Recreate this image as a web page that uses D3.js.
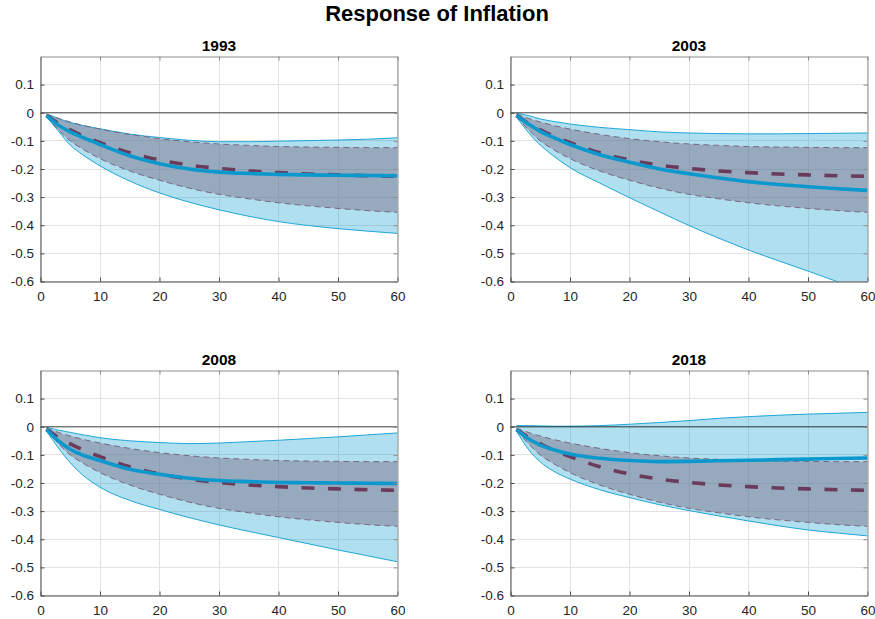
<!DOCTYPE html>
<html>
<head>
<meta charset="utf-8">
<script src="https://cdn.jsdelivr.net/npm/d3@7"></script>
<style>
  body { margin: 0; background: #fff; }
  svg { display: block; font-family: "Liberation Sans", Arial, Helvetica, sans-serif; }
</style>
</head>
<body>
<svg id="chart" width="875" height="619"></svg>
<script>
// Horizons (months after the shock) at which the responses are tabulated
const horizons = [1, 3, 5, 7, 10, 15, 20, 25, 30, 35, 40, 45, 50, 55, 60];

// Full-sample benchmark response: median and band (dashed, same in every panel)
const baseMedian = [-0.010, -0.038, -0.061, -0.081, -0.106, -0.142, -0.168, -0.186, -0.198, -0.207, -0.213, -0.218, -0.221, -0.224, -0.226];
const baseUpper  = [-0.005, -0.020, -0.033, -0.044, -0.058, -0.077, -0.092, -0.103, -0.111, -0.116, -0.120, -0.122, -0.123, -0.124, -0.124];
const baseLower  = [-0.012, -0.060, -0.100, -0.128, -0.163, -0.207, -0.240, -0.268, -0.290, -0.306, -0.320, -0.331, -0.340, -0.348, -0.354];

// Year-specific responses: median and band
const years = ["1993", "2003", "2008", "2018"];

const median1993 = [-0.010, -0.044, -0.068, -0.087, -0.113, -0.153, -0.181, -0.200, -0.211, -0.216, -0.219, -0.221, -0.222, -0.223, -0.224];
const upper1993  = [-0.004, -0.020, -0.035, -0.045, -0.057, -0.076, -0.088, -0.098, -0.103, -0.103, -0.101, -0.099, -0.097, -0.094, -0.089];
const lower1993  = [-0.015, -0.065, -0.115, -0.148, -0.189, -0.243, -0.285, -0.318, -0.345, -0.368, -0.387, -0.401, -0.412, -0.421, -0.429];

const median2003 = [-0.010, -0.040, -0.066, -0.086, -0.113, -0.149, -0.176, -0.200, -0.217, -0.232, -0.245, -0.255, -0.263, -0.270, -0.276];
const upper2003  = [-0.002, -0.010, -0.022, -0.030, -0.040, -0.052, -0.060, -0.068, -0.072, -0.074, -0.075, -0.075, -0.074, -0.073, -0.072];
const lower2003  = [-0.015, -0.070, -0.115, -0.150, -0.195, -0.250, -0.302, -0.352, -0.401, -0.446, -0.488, -0.526, -0.563, -0.601, -0.640];

const median2008 = [-0.010, -0.050, -0.080, -0.100, -0.120, -0.151, -0.169, -0.183, -0.191, -0.195, -0.198, -0.199, -0.200, -0.201, -0.202];
const upper2008  = [-0.002, -0.012, -0.020, -0.028, -0.039, -0.050, -0.056, -0.060, -0.058, -0.053, -0.048, -0.042, -0.036, -0.029, -0.022];
const lower2008  = [-0.015, -0.075, -0.128, -0.170, -0.215, -0.262, -0.294, -0.323, -0.349, -0.372, -0.394, -0.416, -0.438, -0.459, -0.480];

const median2018 = [-0.010, -0.043, -0.065, -0.080, -0.097, -0.112, -0.120, -0.124, -0.123, -0.121, -0.119, -0.117, -0.115, -0.113, -0.111];
const upper2018  = [0.004, 0.004, 0.003, 0.002, 0.002, 0.004, 0.009, 0.015, 0.022, 0.030, 0.036, 0.041, 0.045, 0.048, 0.051];
const lower2018  = [-0.015, -0.080, -0.125, -0.155, -0.186, -0.224, -0.252, -0.277, -0.298, -0.317, -0.335, -0.352, -0.367, -0.378, -0.388];

// Axis ticks
const xTicks = [0, 10, 20, 30, 40, 50, 60];
const xTickLabels = ["0", "10", "20", "30", "40", "50", "60"];
const yTicks = [-0.6, -0.5, -0.4, -0.3, -0.2, -0.1, 0, 0.1];
const yTickLabels = ["-0.6", "-0.5", "-0.4", "-0.3", "-0.2", "-0.1", "0", "0.1"];

const chartTitle = "Response of Inflation";

const panelData = [
  { title: years[0], median: median1993, upper: upper1993, lower: lower1993 },
  { title: years[1], median: median2003, upper: upper2003, lower: lower2003 },
  { title: years[2], median: median2008, upper: upper2008, lower: lower2008 },
  { title: years[3], median: median2018, upper: upper2018, lower: lower2018 }
];

// Subplot geometry (2 x 2 grid)
const colX = [40, 510];
const rowY = [56, 370];
const panelW = 357;
const panelH = 225;

const svg = d3.select("#chart");

svg.append("text")
  .attr("x", 437)
  .attr("y", 21)
  .attr("text-anchor", "middle")
  .attr("font-size", 22)
  .attr("font-weight", "bold")
  .attr("fill", "#000")
  .text(chartTitle);

const xScale = d3.scaleLinear().domain([0, 60]).range([0, panelW]);
const yScale = d3.scaleLinear().domain([-0.6, 0.2]).range([panelH, 0]);

const rows = horizons.map((h, i) => i);

function lineFor(values) {
  return d3.line()
    .x(i => xScale(horizons[i]))
    .y(i => yScale(values[i]))
    .curve(d3.curveMonotoneX)(rows);
}
function areaFor(lo, hi) {
  return d3.area()
    .x(i => xScale(horizons[i]))
    .y0(i => yScale(lo[i]))
    .y1(i => yScale(hi[i]))
    .curve(d3.curveMonotoneX)(rows);
}

panelData.forEach((p, k) => {
  const g = svg.append("g")
    .attr("transform", `translate(${colX[k % 2] + 0.5},${rowY[Math.floor(k / 2)] + 0.5})`);

  const clipId = "clip" + k;
  g.append("clipPath").attr("id", clipId)
    .append("rect").attr("width", panelW).attr("height", panelH);

  // grid
  const grid = g.append("g").attr("stroke", "#e2e2e2").attr("stroke-width", 1);
  grid.selectAll(".gx").data(xTicks).join("line")
    .attr("x1", d => Math.round(xScale(d))).attr("x2", d => Math.round(xScale(d)))
    .attr("y1", 0).attr("y2", panelH);
  grid.selectAll(".gy").data(yTicks).join("line")
    .attr("y1", d => Math.round(yScale(d))).attr("y2", d => Math.round(yScale(d)))
    .attr("x1", 0).attr("x2", panelW);

  const plot = g.append("g").attr("clip-path", `url(#${clipId})`);

  // year-specific band
  plot.append("path")
    .attr("d", areaFor(p.lower, p.upper))
    .attr("fill", "rgb(0,153,204)")
    .attr("fill-opacity", 0.31);

  // benchmark band
  plot.append("path")
    .attr("d", areaFor(baseLower, baseUpper))
    .attr("fill", "#7a6e86")
    .attr("fill-opacity", 0.48);

  // edges of year-specific band
  [p.upper, p.lower].forEach(v => {
    plot.append("path").attr("d", lineFor(v))
      .attr("fill", "none").attr("stroke", "#1ea6d6").attr("stroke-width", 1);
  });

  // dashed edges of benchmark band
  [baseUpper, baseLower].forEach(v => {
    plot.append("path").attr("d", lineFor(v))
      .attr("fill", "none").attr("stroke", "#7a6680").attr("stroke-width", 1)
      .attr("stroke-dasharray", "6,4");
  });

  // zero line
  plot.append("line")
    .attr("x1", 0).attr("x2", panelW)
    .attr("y1", yScale(0)).attr("y2", yScale(0))
    .attr("stroke", "#000").attr("stroke-opacity", 0.48).attr("stroke-width", 1.6);

  // benchmark median
  plot.append("path").attr("d", lineFor(baseMedian))
    .attr("fill", "none").attr("stroke", "#6b3b5c").attr("stroke-width", 3.6)
    .attr("stroke-dasharray", "13,13.5");

  // year-specific median
  plot.append("path").attr("d", lineFor(p.median))
    .attr("fill", "none").attr("stroke", "#0b98cd").attr("stroke-width", 3.6)
    .attr("stroke-linejoin", "round");

  // axes (ticks pointing inward on all four sides)
  const styleAxis = (sel, color) => {
    sel.select(".domain").attr("stroke", color).attr("stroke-width", 1);
    sel.selectAll(".tick line").attr("stroke", color);
    sel.selectAll(".tick text")
      .attr("fill", "#262626")
      .attr("font-size", 13.5)
      .attr("font-family", "\"Liberation Sans\", Arial, sans-serif");
  };

  const xAxis = g.append("g").attr("transform", `translate(0,${panelH})`)
    .call(d3.axisBottom(xScale).tickValues(xTicks)
      .tickFormat((d, i) => xTickLabels[i])
      .tickSizeInner(-4).tickSizeOuter(0).tickPadding(10));
  styleAxis(xAxis, "#4a4a4a");

  const yAxis = g.append("g")
    .call(d3.axisLeft(yScale).tickValues(yTicks)
      .tickFormat((d, i) => yTickLabels[i])
      .tickSizeInner(-4).tickSizeOuter(0).tickPadding(6.5));
  styleAxis(yAxis, "#4a4a4a");

  const topAxis = g.append("g")
    .call(d3.axisTop(xScale).tickValues(xTicks).tickFormat("")
      .tickSizeInner(-4).tickSizeOuter(0));
  styleAxis(topAxis, "#8c8c8c");

  const rightAxis = g.append("g").attr("transform", `translate(${panelW},0)`)
    .call(d3.axisRight(yScale).tickValues(yTicks).tickFormat("")
      .tickSizeInner(-4).tickSizeOuter(0));
  styleAxis(rightAxis, "#8c8c8c");

  // subplot title
  g.append("text")
    .attr("x", panelW / 2)
    .attr("y", -6)
    .attr("text-anchor", "middle")
    .attr("font-size", 15.5)
    .attr("font-weight", "bold")
    .attr("fill", "#000")
    .text(p.title);
});
</script>
</body>
</html>
